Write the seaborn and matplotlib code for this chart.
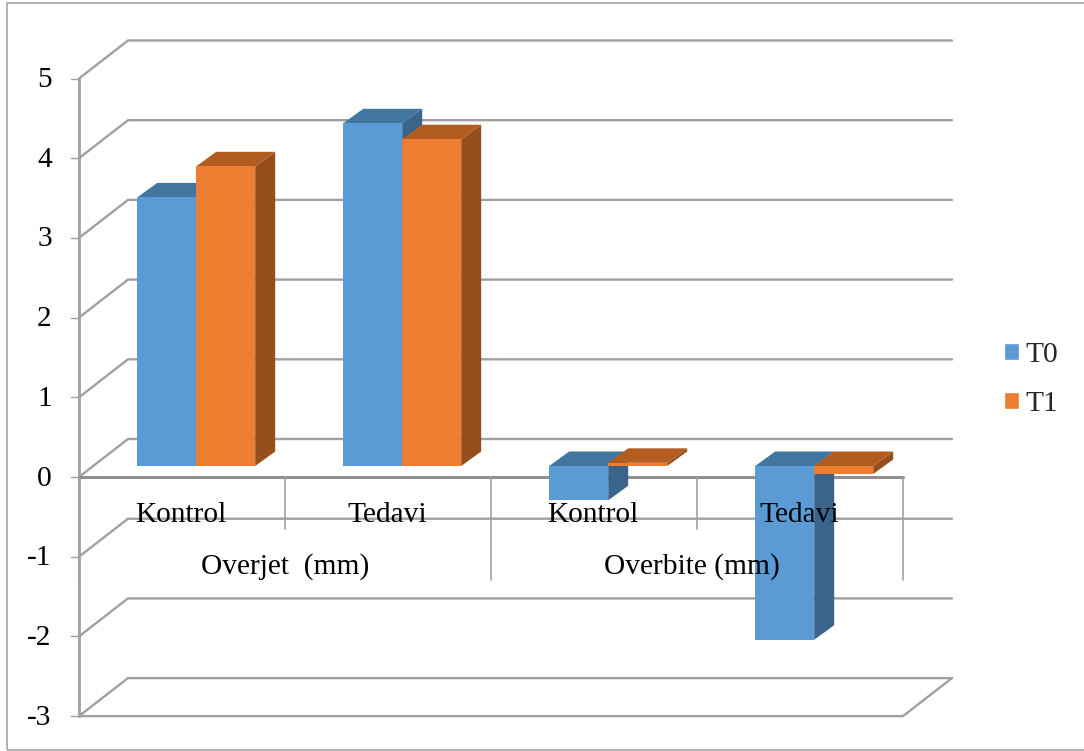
import matplotlib
matplotlib.use("Agg")
import matplotlib.pyplot as plt
import pandas as pd
import seaborn as sns
from matplotlib.patches import Polygon, Rectangle

measures = ["Overjet  (mm)", "Overbite (mm)"]
measure_shift_px = [0, -4.5]
groups = ["Kontrol", "Tedavi", "Kontrol", "Tedavi"]
t0_values = [3.37, 4.30, -0.43, -2.18]
t1_values = [3.76, 4.10, 0.04, -0.10]
y_ticks = [5, 4, 3, 2, 1, 0, -1, -2, -3]
series_colors = {"T0": "#5B9BD5", "T1": "#ED7D31"}
top_colors = {"T0": "#4375A1", "T1": "#B25C20"}
side_colors = {"T0": "#3A6489", "T1": "#964F1C"}

WIDTH, HEIGHT = 1084, 751
PX_X = 206.0    # pixels per category
PX_Y = 79.7     # pixels per value unit
PT = 0.72       # points per pixel at 100 dpi
GRID = "#A0A0A0"

df = pd.DataFrame({
    "slot": [f"{i}" for i in range(4)] * 2,
    "value": t0_values + t1_values,
    "series": ["T0"] * 4 + ["T1"] * 4,
})

sns.set_theme(style="white")
plt.rcParams["font.family"] = ["Liberation Serif", "DejaVu Serif"]

fig = plt.figure(figsize=(WIDTH / 100, HEIGHT / 100), dpi=100)
# The axes span the plane the bar fronts stand on
left, right = 93.2, 93.2 + 4 * PX_X
top, bottom = 466 - 5 * PX_Y, 466 + 3 * PX_Y
ax = fig.add_axes([left / WIDTH, 1 - bottom / HEIGHT,
                   (right - left) / WIDTH, (bottom - top) / HEIGHT])

sns.barplot(data=df, x="slot", y="value", hue="series", palette=series_colors,
            width=118 / PX_X, saturation=1, dodge=True, ax=ax, zorder=3)
ax.set_xlim(-0.5, 3.5)
ax.set_ylim(-3, 5)
ax.set_xlabel("")
ax.set_ylabel("")
ax.set_xticks([])
ax.set_yticks([])
sns.despine(ax=ax, left=True, bottom=True)
ax.patch.set_alpha(0)

# Depth of the chart box and the bars, in data units
front_dx, front_dy = -14.2 / PX_X, -11 / PX_Y
back_dx, back_dy = 34.8 / PX_X, 27 / PX_Y
bar_dx, bar_dy = 20 / PX_X, 14.5 / PX_Y

x0, x1 = -0.5, 3.5
for v in y_ticks:
    # Wall and floor lines behind the bars
    ax.plot([x0 + front_dx, x0 + back_dx, x1 + back_dx],
            [v + front_dy, v + back_dy, v + back_dy],
            color=GRID, lw=1.7, clip_on=False, zorder=1, solid_joinstyle="miter")
    ax.plot([x0 + front_dx - 8 / PX_X, x0 + front_dx],
            [v + front_dy, v + front_dy],
            color=GRID, lw=1.0, clip_on=False, zorder=1)

# Front edges of the box
ax.plot([x0 + front_dx] * 2, [5 + front_dy, -3 + front_dy],
        color=GRID, lw=2.0, clip_on=False, zorder=1)
ax.plot([x0 + front_dx, x1 + front_dx, x1 + back_dx],
        [-3 + front_dy, -3 + front_dy, -3 + back_dy],
        color=GRID, lw=1.7, clip_on=False, zorder=1, solid_joinstyle="miter")
ax.plot([x0 + front_dx, x1 + front_dx], [front_dy, front_dy],
        color="#909090", lw=2.2, clip_on=False, zorder=1)

# Category separators hanging under the zero line
short_drop = 52 / PX_Y
long_drop = 103 / PX_Y
for i in range(5):
    drop = long_drop if i % 2 == 0 else short_drop
    x = x0 + i + front_dx
    ax.plot([x, x], [front_dy, front_dy - drop], color=GRID, lw=1.2,
            clip_on=False, zorder=1)

# Extrude every bar into a box
for container, name, z in zip(ax.containers, ["T0", "T1"], [3, 4]):
    for rect in container:
        xa, xb = rect.get_x(), rect.get_x() + rect.get_width()
        yb = min(rect.get_y(), rect.get_y() + rect.get_height())
        yt = max(rect.get_y(), rect.get_y() + rect.get_height())
        ax.add_patch(Polygon(
            [(xb, yb), (xb + bar_dx, yb + bar_dy), (xb + bar_dx, yt + bar_dy), (xb, yt)],
            closed=True, fc=side_colors[name], ec="none", zorder=z, clip_on=False))
        ax.add_patch(Polygon(
            [(xa, yt), (xa + bar_dx, yt + bar_dy), (xb + bar_dx, yt + bar_dy), (xb, yt)],
            closed=True, fc=top_colors[name], ec="none", zorder=z, clip_on=False))
        rect.set_zorder(z + 0.5)
        rect.set_edgecolor("none")

# Axis text
TEXT_PT = 21.2
for v in y_ticks:
    ax.annotate(str(v), xy=(x0, v), xytext=(-41.5 * PT, -12.5 * PT),
                textcoords="offset points", ha="right", va="center",
                fontsize=TEXT_PT, color="black", annotation_clip=False)

for i, name in enumerate(groups):
    ax.annotate(name, xy=(i, 0), xytext=(-15 * PT, -49 * PT),
                textcoords="offset points", ha="center", va="center",
                fontsize=TEXT_PT, color="black", zorder=8, annotation_clip=False)
for j, name in enumerate(measures):
    ax.annotate(name, xy=(2 * j + 0.5, 0),
                xytext=((-14.5 + measure_shift_px[j]) * PT, -101 * PT),
                textcoords="offset points", ha="center", va="center",
                fontsize=TEXT_PT, color="black", zorder=8, annotation_clip=False)

handles, labels = ax.get_legend_handles_labels()
ax.legend(handles, labels, loc="center left",
          bbox_to_anchor=(1003.5 / WIDTH, 1 - 379.5 / HEIGHT),
          bbox_transform=fig.transFigure, frameon=False, fontsize=TEXT_PT,
          handlelength=0.52, handleheight=0.52, handletextpad=0.24,
          labelspacing=0.78, borderpad=0, borderaxespad=0)

# Thin frame round the whole chart
fig.add_artist(Rectangle((7 / WIDTH, 1 - 750 / HEIGHT), 1100 / WIDTH, 747 / HEIGHT,
                         transform=fig.transFigure, fc="none", ec="#A6A6A6", lw=1.2))

fig.savefig("out.png", dpi=100, facecolor="white")
